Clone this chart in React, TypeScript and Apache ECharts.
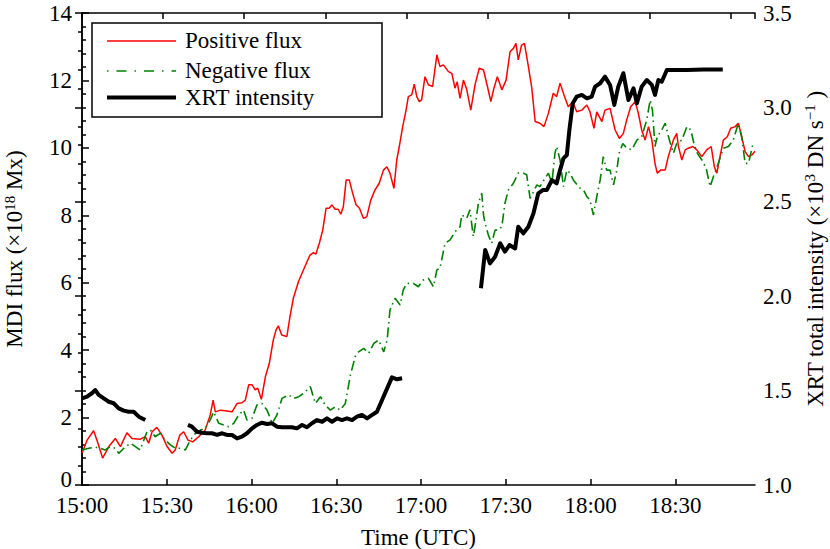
import React, { useEffect, useRef } from "react";
import * as echarts from "echarts";

// time in minutes after 15:00 UTC
const xTickLabels = ["15:00", "15:30", "16:00", "16:30", "17:00", "17:30", "18:00", "18:30"];

// Positive flux (x1e18 Mx)
const positiveFlux: [number, number][] = [
  [0, 0.95], [1.8, 1.33], [4.1, 1.61], [5.3, 1.33], [7.3, 0.8], [9.5, 1.14], [11.8, 1.38], [13.6, 1.14],
  [15.9, 1.55], [17.7, 1.38], [20.6, 1.36], [22.4, 1.43], [23.6, 1.24], [24.8, 1.58], [26.5, 1.71], [28.3, 1.48],
  [30.1, 1.14], [31.9, 0.94], [33.0, 1.04], [34.6, 1.48], [36.0, 1.58], [37.5, 1.33], [39.2, 1.28], [41.3, 1.43],
  [43.6, 1.63], [45.4, 2.08], [46.4, 2.52], [47.2, 2.17], [49.0, 2.22], [50.7, 2.2], [53.1, 2.17], [54.9, 2.42],
  [56.6, 2.44], [57.8, 2.52], [59.0, 2.97], [60.2, 2.97], [61.3, 2.82], [62.2, 2.87], [63.5, 2.54], [64.9, 3.21],
  [66.3, 3.61], [67.7, 4.3], [68.7, 4.6], [69.5, 4.72], [70.7, 4.45], [72.5, 4.4], [73.6, 4.99], [74.8, 5.54],
  [76.6, 6.03], [78.9, 6.48], [80.7, 6.82], [81.9, 6.89], [82.8, 6.85], [84.0, 7.17], [85.2, 7.56], [86.4, 8.21],
  [87.5, 8.21], [88.4, 8.31], [89.6, 8.18], [90.7, 8.18], [91.6, 8.03], [92.5, 8.26], [93.5, 9.05], [94.6, 9.05],
  [95.8, 8.65], [97.0, 8.31], [98.2, 8.21], [99.6, 7.91], [100.8, 7.96], [102.2, 8.45], [103.7, 8.75], [105.2, 8.95],
  [106.7, 9.34], [107.9, 9.44], [109.0, 9.25], [110.4, 8.8], [111.4, 9.64], [112.3, 10.04], [113.5, 10.63], [114.7, 11.12],
  [115.5, 11.52], [116.7, 11.57], [117.6, 11.89], [118.5, 11.52], [119.4, 11.37], [120.2, 11.42], [121.4, 12.11], [122.6, 11.87],
  [124.1, 11.82], [125.6, 12.76], [126.7, 12.41], [127.9, 12.46], [129.7, 12.26], [130.9, 12.21], [132.0, 11.77], [132.8, 11.96],
  [133.8, 11.47], [135.0, 12.01], [136.2, 11.72], [137.6, 11.12], [139.1, 11.87], [140.6, 12.36], [142.1, 12.31], [143.5, 11.82],
  [144.7, 11.37], [145.8, 11.77], [147.0, 12.11], [148.6, 11.72], [150.1, 12.01], [151.5, 12.85], [152.7, 12.95], [153.6, 13.1],
  [154.4, 12.61], [155.6, 13.05], [156.6, 13.1], [158.0, 12.41], [159.2, 11.77], [160.4, 10.78], [162.1, 10.73], [163.5, 10.63],
  [165.1, 11.03], [166.8, 11.62], [168.0, 11.52], [169.2, 11.92], [170.6, 11.57], [172.1, 11.22], [173.7, 11.37], [175.1, 11.07],
  [176.9, 11.12], [178.7, 11.27], [179.8, 11.07], [181.2, 10.58], [182.2, 11.07], [184.0, 10.78], [185.1, 11.12], [186.9, 11.17],
  [188.7, 10.53], [190.2, 10.28], [191.6, 10.43], [192.8, 10.83], [194.2, 11.22], [195.8, 11.37], [196.9, 11.03], [198.1, 10.53],
  [199.3, 10.23], [200.5, 10.63], [201.7, 10.23], [202.8, 9.54], [203.6, 9.25], [204.8, 9.34], [206.4, 9.34], [207.5, 9.74],
  [209.3, 10.23], [210.5, 10.43], [211.1, 10.04], [212.3, 9.64], [213.5, 9.94], [214.6, 9.99], [216.2, 10.04], [217.6, 9.94],
  [219.4, 9.74], [221.1, 9.94], [222.7, 10.04], [223.8, 9.44], [224.7, 9.25], [225.8, 9.74], [227.0, 10.23], [228.4, 10.33],
  [229.6, 10.58], [231.2, 10.63], [232.3, 10.73], [233.5, 10.33], [234.7, 9.89], [235.9, 9.74], [237.1, 9.79], [238.2, 9.9],
];

// Negative flux (x1e18 Mx)
const negativeFlux: [number, number][] = [
  [0, 1.04], [2.4, 1.09], [4.7, 1.12], [6.5, 1.09], [8.2, 1.04], [10.0, 1.14], [11.8, 1.09], [13.0, 0.94],
  [14.8, 1.09], [17.1, 1.24], [18.9, 1.14], [20.6, 1.04], [23.0, 1.58], [24.2, 1.63], [25.9, 1.43], [27.7, 1.53],
  [29.5, 1.33], [31.3, 1.19], [33.0, 1.09], [34.8, 1.09], [36.6, 1.04], [38.3, 1.33], [40.1, 1.53], [41.9, 1.63],
  [43.6, 1.68], [45.4, 1.93], [46.6, 2.17], [48.4, 1.83], [50.2, 1.78], [51.9, 1.73], [53.7, 1.83], [55.5, 2.08],
  [57.2, 2.22], [58.4, 1.93], [60.2, 1.98], [61.9, 2.37], [63.7, 2.42], [65.5, 2.22], [67.3, 1.83], [69.0, 2.08],
  [70.8, 2.57], [73.2, 2.67], [74.9, 2.57], [76.7, 2.62], [78.5, 2.72], [80.8, 2.92], [82.6, 2.42], [84.4, 2.62],
  [86.1, 2.37], [87.9, 2.22], [89.7, 2.32], [91.4, 2.22], [93.2, 2.42], [95.0, 3.26], [96.7, 3.81], [97.9, 3.95],
  [99.7, 4.05], [101.5, 3.91], [103.3, 4.2], [105.0, 4.3], [106.8, 3.95], [108.0, 4.3], [109.0, 5.19], [110.8, 5.54],
  [112.6, 5.34], [113.7, 5.78], [114.9, 5.98], [117.3, 5.98], [119.0, 5.88], [120.8, 6.08], [122.6, 6.13], [124.4, 5.88],
  [125.6, 6.38], [126.7, 6.43], [128.5, 7.17], [130.3, 7.27], [132.0, 7.51], [133.8, 7.66], [134.4, 8.01], [136.2, 7.91],
  [137.3, 8.16], [138.5, 7.37], [139.1, 7.66], [140.3, 8.36], [141.5, 8.65], [142.1, 8.01], [142.7, 7.76], [143.8, 7.42],
  [145.0, 7.17], [146.2, 7.56], [147.4, 7.56], [148.6, 7.66], [149.7, 8.36], [150.9, 8.75], [152.7, 8.95], [154.4, 9.25],
  [156.2, 9.25], [157.4, 9.2], [158.6, 8.5], [159.8, 8.7], [161.0, 8.9], [162.1, 8.85], [163.9, 9.1], [165.1, 9.25],
  [166.3, 8.95], [167.4, 9.84], [168.0, 10.04], [169.2, 9.64], [170.4, 8.85], [171.6, 9.34], [172.7, 9.25], [173.9, 9.05],
  [175.3, 8.9], [176.3, 8.8], [177.5, 8.75], [178.7, 8.55], [179.8, 8.45], [181.0, 8.01], [182.2, 8.55], [183.4, 9.05],
  [184.5, 9.74], [185.7, 9.34], [186.9, 9.34], [188.1, 8.9], [189.3, 9.34], [190.1, 9.84], [191.4, 10.13], [192.8, 9.99],
  [194.6, 9.94], [196.4, 10.23], [198.1, 10.33], [199.9, 10.83], [201.1, 11.42], [201.9, 11.12], [202.8, 10.04], [203.6, 10.33],
  [205.2, 10.53], [206.4, 10.73], [207.9, 10.23], [209.3, 9.84], [210.5, 10.13], [212.3, 10.23], [214.1, 10.63], [215.5, 10.53],
  [216.6, 10.13], [217.8, 9.84], [219.4, 9.64], [220.9, 9.4], [222.3, 8.85], [223.5, 9.15], [225.2, 9.54], [227.0, 9.99],
  [228.8, 10.04], [230.5, 10.23], [232.3, 10.73], [233.5, 10.33], [234.7, 9.54], [235.9, 9.54], [237.4, 10.09],
];

// XRT total intensity (x1e3 DN/s), three observing segments
const xrtSegment1: [number, number][] = [
  [0, 1.459], [1.8, 1.468], [3.5, 1.486], [4.7, 1.503], [5.9, 1.477], [7.7, 1.459], [9.5, 1.441], [11.2, 1.433],
  [13.0, 1.406], [14.8, 1.394], [16.5, 1.388], [18.3, 1.388], [20.1, 1.362], [22.4, 1.344],
];
const xrtSegment2: [number, number][] = [
  [37.5, 1.318], [38.9, 1.309], [40.7, 1.282], [42.5, 1.277], [44.2, 1.274], [46.0, 1.274], [47.8, 1.265], [49.6, 1.274],
  [51.3, 1.265], [53.1, 1.265], [54.9, 1.247], [56.6, 1.256], [58.4, 1.274], [60.2, 1.3], [61.9, 1.318], [63.7, 1.33],
  [65.5, 1.323], [67.3, 1.327], [69.0, 1.309], [70.8, 1.306], [72.6, 1.306], [74.3, 1.306], [76.1, 1.3], [77.9, 1.318],
  [79.6, 1.306], [81.4, 1.327], [83.2, 1.344], [85.0, 1.335], [86.7, 1.353], [88.5, 1.335], [90.3, 1.353], [92.0, 1.344],
  [93.8, 1.353], [95.6, 1.344], [97.3, 1.362], [99.1, 1.371], [100.9, 1.353], [102.7, 1.371], [104.4, 1.388], [106.2, 1.45],
  [108.0, 1.512], [109.7, 1.57], [111.5, 1.56], [113.3, 1.565],
];
const xrtSegment3: [number, number][] = [
  [141.2, 2.042], [142.7, 2.245], [144.4, 2.174], [146.2, 2.209], [148.0, 2.28], [149.7, 2.236], [151.3, 2.271], [153.3, 2.253],
  [154.4, 2.368], [156.2, 2.333], [158.0, 2.368], [159.8, 2.439], [161.5, 2.545], [163.1, 2.562], [164.5, 2.562], [166.3, 2.615],
  [168.0, 2.598], [169.2, 2.668], [170.4, 2.73], [171.6, 2.748], [172.5, 2.88], [173.7, 3.022], [175.1, 3.057], [176.9, 3.066],
  [178.7, 3.048], [180.4, 3.057], [181.6, 3.11], [183.4, 3.128], [185.1, 3.163], [186.9, 3.119], [188.4, 3.013], [189.8, 3.11],
  [191.6, 3.181], [193.4, 3.039], [195.2, 3.101], [196.4, 3.022], [198.1, 3.11], [199.9, 3.145], [201.7, 3.119], [202.8, 3.066],
  [204.0, 3.145], [205.2, 3.136], [207.0, 3.198], [209.3, 3.198], [214.1, 3.198], [220.0, 3.201], [226.8, 3.201],
];

const legendLabels = ["Positive flux", "Negative flux", "XRT intensity"];

const FONT = "Liberation Serif";

export default function App() {
  const ref = useRef<HTMLDivElement>(null);

  useEffect(() => {
    if (!ref.current) return;
    const chart = echarts.init(ref.current, null, { renderer: "svg" });

    const xrtData: any[] = [
      ...xrtSegment1,
      [xrtSegment1[xrtSegment1.length - 1][0] + 1, null],
      ...xrtSegment2,
      [xrtSegment2[xrtSegment2.length - 1][0] + 1, null],
      ...xrtSegment3,
    ];

    const axisLine = { show: true, lineStyle: { color: "#000", width: 1.5 } };
    const labelStyle = { color: "#000", fontSize: 23, fontFamily: FONT };
    const rich = {
      a: { fontSize: 23, fontFamily: FONT, color: "#000" },
      s: { fontSize: 15, fontFamily: FONT, color: "#000", padding: [0, 0, 10, 0] },
    };

    chart.setOption({
      animation: false,
      textStyle: { fontFamily: FONT },
      grid: {
        left: 82,
        right: 75,
        top: 13,
        bottom: 64,
        containLabel: false,
        outerBoundsMode: "none",
      },
      xAxis: [
        {
          type: "value",
          position: "bottom",
          min: 0,
          max: 238.2,
          interval: 30,
          axisLine,
          axisTick: { show: true, inside: true, length: 6, lineStyle: { color: "#000", width: 1.5 } },
          splitLine: { show: false },
          axisLabel: {
            ...labelStyle,
            margin: 12,
            lineHeight: 16,
            showMaxLabel: false,
            formatter: (v: number) => {
              const i = Math.round(v / 30);
              return Math.abs(v - i * 30) < 1e-6 && xTickLabels[i] ? xTickLabels[i] : "";
            },
          },
          name: "Time (UTC)",
          nameLocation: "middle",
          nameGap: 41,
          nameTextStyle: { ...labelStyle },
        },
        {
          type: "value",
          position: "top",
          min: 0,
          max: 8.3,
          interval: 1,
          axisLine,
          axisTick: { show: true, inside: true, length: 6, lineStyle: { color: "#000", width: 1.5 } },
          splitLine: { show: false },
          axisLabel: { show: false },
        },
      ],
      yAxis: [
        {
          type: "value",
          position: "left",
          min: 0,
          max: 14,
          interval: 2,
          axisLine,
          axisTick: { show: true, inside: true, length: 7, lineStyle: { color: "#000", width: 1.5 } },
          minorTick: { show: true, splitNumber: 5, length: 4, lineStyle: { color: "#000", width: 1.5 } },
          splitLine: { show: false },
          minorSplitLine: { show: false },
          axisLabel: {
            ...labelStyle,
            margin: 10,
            lineHeight: 16,
            formatter: (v: number) => (v === 0 ? "{z|0}" : String(v)),
            rich: { z: { fontSize: 23, fontFamily: FONT, color: "#000", lineHeight: 16, padding: [0, 0, 12, 0] } },
          },
          name: "{a|MDI flux (×10}{s|18}{a| Mx)}",
          nameLocation: "middle",
          nameRotate: 90,
          nameGap: 55,
          nameTextStyle: { ...labelStyle, rich },
        },
        {
          type: "value",
          position: "right",
          min: 1,
          max: 3.5,
          interval: 0.5,
          axisLine,
          axisTick: { show: true, inside: true, length: 7, lineStyle: { color: "#000", width: 1.5 } },
          minorTick: { show: true, splitNumber: 5, length: 4, lineStyle: { color: "#000", width: 1.5 } },
          splitLine: { show: false },
          minorSplitLine: { show: false },
          axisLabel: { ...labelStyle, margin: 8, lineHeight: 16, formatter: (v: number) => v.toFixed(1) },
          name: "{a|XRT total intensity (×10}{s|3}{a| DN s}{s|−1}{a| )}",
          nameLocation: "middle",
          nameRotate: 90,
          nameGap: 46,
          nameTextStyle: { ...labelStyle, rich },
        },
      ],
      series: [
        {
          name: legendLabels[0],
          type: "line",
          xAxisIndex: 0,
          yAxisIndex: 0,
          data: positiveFlux,
          symbol: "none",
          showSymbol: false,
          silent: true,
          lineStyle: { color: "#ff0000", width: 1.5 },
          z: 2,
        },
        {
          name: legendLabels[1],
          type: "line",
          xAxisIndex: 0,
          yAxisIndex: 0,
          data: negativeFlux,
          symbol: "none",
          showSymbol: false,
          silent: true,
          lineStyle: { color: "#008000", width: 1.6, type: [10, 4, 1.5, 4] },
          z: 3,
        },
        {
          name: legendLabels[2],
          type: "line",
          xAxisIndex: 0,
          yAxisIndex: 1,
          data: xrtData,
          connectNulls: false,
          symbol: "none",
          showSymbol: false,
          silent: true,
          lineStyle: { color: "#000", width: 4, join: "round" },
          z: 4,
        },
      ],
      graphic: [
        {
          type: "group",
          z: 100,
          children: [
            {
              type: "rect",
              shape: { x: 92, y: 23, width: 290, height: 94 },
              style: { fill: "#fff", stroke: "#000", lineWidth: 1.5 },
            },
            {
              type: "line",
              shape: { x1: 107, y1: 41, x2: 176, y2: 41 },
              style: { stroke: "#ff0000", lineWidth: 1.5 },
            },
            {
              type: "line",
              shape: { x1: 107, y1: 71, x2: 176, y2: 71 },
              style: { stroke: "#008000", lineWidth: 1.6, lineDash: [1.5, 8, 10, 8] },
            },
            {
              type: "line",
              shape: { x1: 107, y1: 97.5, x2: 176, y2: 97.5 },
              style: { stroke: "#000", lineWidth: 4 },
            },
            {
              type: "text",
              style: { text: legendLabels[0], x: 185, y: 40, fontSize: 23, fontFamily: FONT, fill: "#000", verticalAlign: "middle" },
            },
            {
              type: "text",
              style: { text: legendLabels[1], x: 185, y: 70, fontSize: 23, fontFamily: FONT, fill: "#000", verticalAlign: "middle" },
            },
            {
              type: "text",
              style: { text: legendLabels[2], x: 185, y: 97, fontSize: 23, fontFamily: FONT, fill: "#000", verticalAlign: "middle" },
            },
          ],
        },
      ],
    });

    return () => chart.dispose();
  }, []);

  return (
    <div
      ref={ref}
      style={{ position: "absolute", left: 0, top: 0, width: 830, height: 549, background: "#fff" }}
    />
  );
}
